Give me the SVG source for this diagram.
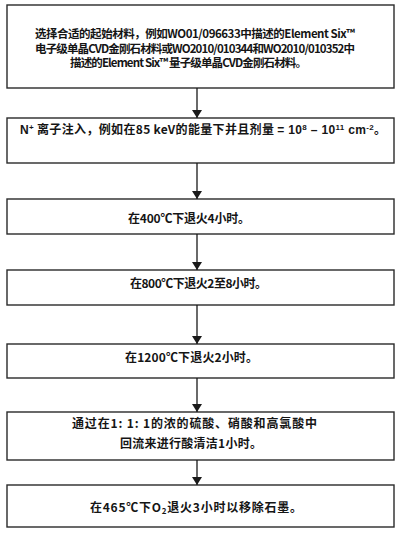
<svg xmlns="http://www.w3.org/2000/svg" width="400" height="533" viewBox="0 0 400 533">
<defs>
<marker id="ah" markerWidth="8" markerHeight="10" refX="8" refY="5" orient="auto" markerUnits="userSpaceOnUse">
<path d="M0,0 L8,5 L0,10 Z" fill="#1a1a1a"/>
</marker>
</defs>
<style>
.box{fill:#fff;stroke:#2a2a2a;stroke-width:1.4}
.t{font-family:"Noto Sans CJK SC","Liberation Serif",serif;font-size:12px;font-weight:600;fill:#151515;text-anchor:middle}
.s{font-size:11.5px}
.b{font-family:"Liberation Sans","Noto Sans CJK SC",sans-serif;font-weight:bold}
.c{stroke:#1a1a1a;stroke-width:1.3;fill:none}
</style>
<rect width="400" height="533" fill="#fff"/>
<g id="n1">
<rect class="box" x="7" y="5" width="387" height="83"/>
<text class="t s" x="195" y="38" textLength="320" lengthAdjust="spacing">选择合适的起始材料，例如WO01/096633中描述的Element Six™</text>
<text class="t s" x="195" y="52.5" textLength="320" lengthAdjust="spacing">电子级单晶CVD金刚石材料或WO2010/010344和WO2010/010352中</text>
<text class="t s" x="188.5" y="67" textLength="237" lengthAdjust="spacing">描述的Element Six™ 量子级单晶CVD金刚石材料。</text>
</g>
<g id="n2">
<rect class="box" x="7" y="118" width="387" height="45"/>
<text class="t" x="203" y="133.5" textLength="366" lengthAdjust="spacing"><tspan class="b">N</tspan><tspan class="b" font-size="8" dy="-4">+</tspan><tspan dy="4"> 离子注入，例如在85 keV的能量下并且剂量 </tspan><tspan class="b">= 10</tspan><tspan class="b" font-size="8" dy="-4">8</tspan><tspan class="b" dy="4"> – 10</tspan><tspan class="b" font-size="8" dy="-4">11</tspan><tspan class="b" dy="4"> cm</tspan><tspan class="b" font-size="8" dy="-4">-2</tspan><tspan dy="4">。</tspan></text>
</g>
<g id="n3">
<rect class="box" x="7" y="199" width="387" height="35"/>
<text class="t" x="189" y="222.5" textLength="122" lengthAdjust="spacing">在400℃下退火4小时。</text>
</g>
<g id="n4">
<rect class="box" x="7" y="270" width="387" height="35"/>
<text class="t" x="198.5" y="287.5" textLength="137" lengthAdjust="spacing">在800℃下退火2至8小时。</text>
</g>
<g id="n5">
<rect class="box" x="7" y="344" width="387" height="34"/>
<text class="t" x="191.5" y="361.5" textLength="133" lengthAdjust="spacing">在1200℃下退火2小时。</text>
</g>
<g id="n6">
<rect class="box" x="7" y="412" width="387" height="48"/>
<text class="t" x="194.5" y="427.5" textLength="245" lengthAdjust="spacing">通过在1: 1: 1的浓的硫酸、硝酸和高氯酸中</text>
<text class="t" x="191" y="447.5" textLength="142" lengthAdjust="spacing">回流来进行酸清洁1小时。</text>
</g>
<g id="n7">
<rect class="box" x="7" y="485" width="387" height="42"/>
<text class="t" x="196" y="511.5" textLength="212" lengthAdjust="spacing">在465℃下O<tspan font-size="8" dy="2">2</tspan><tspan dy="-2">退火3小时以移除石墨。</tspan></text>
</g>
<g id="connectors">
<line class="c" x1="197" y1="88" x2="197" y2="118" marker-end="url(#ah)"/>
<line class="c" x1="197" y1="163" x2="197" y2="199" marker-end="url(#ah)"/>
<line class="c" x1="197" y1="234" x2="197" y2="270" marker-end="url(#ah)"/>
<line class="c" x1="197" y1="305" x2="197" y2="344" marker-end="url(#ah)"/>
<line class="c" x1="197" y1="378" x2="197" y2="412" marker-end="url(#ah)"/>
<line class="c" x1="197" y1="460" x2="197" y2="485" marker-end="url(#ah)"/>
</g>
</svg>
